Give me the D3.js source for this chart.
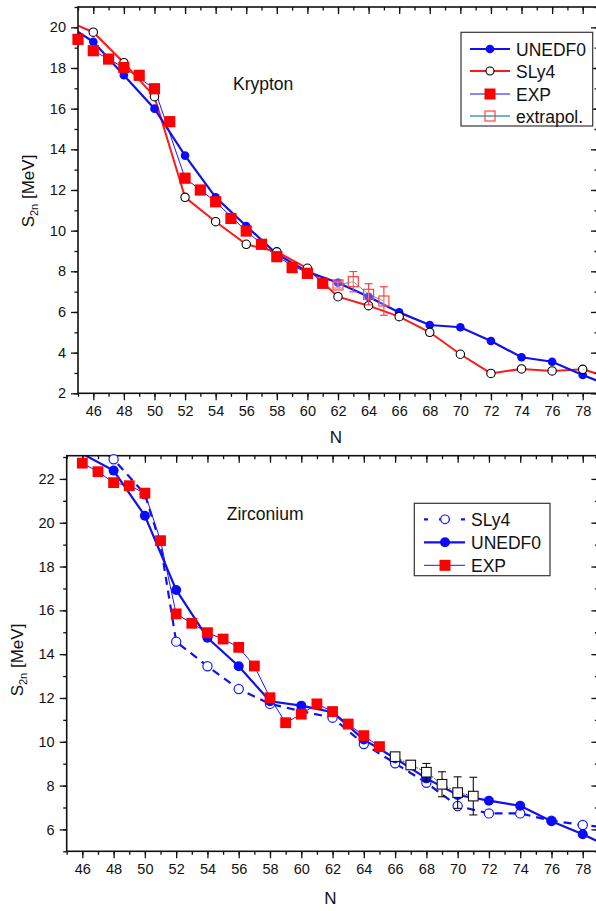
<!DOCTYPE html>
<html><head><meta charset="utf-8">
<script src="https://cdn.jsdelivr.net/npm/d3@7/dist/d3.min.js"></script>
<style>body{margin:0;background:#fff}svg{display:block}text{font-family:"Liberation Sans",Arial,sans-serif}</style>
</head><body>
<svg id="c" width="596" height="911"></svg>
<script>
// ---------- Krypton data ----------
const krEvenN   = [44,46,48,50,52,54,56,58,60,62,64,66,68,70,72,74,76,78,80];
const krUNEDF0  = [20.26,19.29,17.64,16.0,13.69,11.64,10.23,8.85,7.98,7.44,6.75,5.98,5.36,5.25,4.57,3.77,3.55,2.90,2.3];
const krSLy4    = [20.4,19.76,18.26,16.59,11.64,10.44,9.33,8.96,8.15,6.75,6.31,5.77,5.0,3.92,2.98,3.20,3.10,3.18,2.72];
const krExpN    = [45,46,47,48,49,50,51,52,53,54,55,56,57,58,59,60,61];
const krEXP     = [19.41,18.85,18.44,18.02,17.64,16.98,15.36,12.58,12.0,11.42,10.6,9.98,9.33,8.72,8.18,7.90,7.41];
const krExtrapN = [62,63,64,65];
const krExtrap  = [7.33,7.49,6.87,6.54];
const krExtrapErr = [0.15,0.5,0.52,0.7];
// ---------- Zirconium data ----------
const zrUnedN   = [44,46,48,50,52,54,56,58,60,62,64,66,68,70,72,74,76,78,80];
const zrUNEDF0  = [24.3,23.15,22.38,20.32,16.93,14.75,13.45,11.85,11.65,11.35,10.1,9.25,8.33,7.57,7.31,7.08,6.37,5.78,5.1];
const zrSlyN    = [44,46,48,50,51,52,54,56,58,60,62,64,66,68,70,72,74,76,78,80];
const zrSLy4    = [25.0,24.0,22.9,21.3,19.0,14.57,13.45,12.41,11.73,11.4,11.1,9.9,9.02,8.13,7.07,6.73,6.73,6.4,6.2,6.05];
const zrExpN    = [46,47,48,49,50,51,52,53,54,55,56,57,58,59,60,61,62,63,64,65];
const zrEXP     = [22.72,22.33,21.83,21.69,21.35,19.18,15.84,15.41,14.98,14.69,14.31,13.46,12.01,10.87,11.26,11.73,11.38,10.81,10.28,9.78];
const zrExtrapN = [66,67,68,69,70,71];
const zrExtrap  = [9.32,8.94,8.61,8.06,7.68,7.52];
const zrExtrapErr = [0.1,0.2,0.4,0.57,0.72,0.86];
// ---------- ticks ----------
const xTickLabels = d3.range(46,79,2);
const krYTicks = d3.range(2,21,2);
const zrYTicks = d3.range(6,23,2);

const svg = d3.select("#c");
const zip = (ns, vs) => ns.map((n,i)=>({n, v:vs[i]}));

function panel(o){
  const g = svg.append("g");
  const x = d3.scaleLinear().domain([45,79]).range([o.left, o.right]);
  const y = d3.scaleLinear().domain(o.yDom).range([o.bottom, o.top]);
  const id = "clip"+o.name;
  svg.append("clipPath").attr("id", id).append("rect")
    .attr("x", o.left).attr("y", o.top).attr("width", o.right-o.left).attr("height", o.bottom-o.top);
  const data = g.append("g").attr("clip-path", `url(#${id})`);
  const line = d3.line().x(d=>x(d.n)).y(d=>y(d.v));
  const inDom = d => d.v <= o.yDom[1]+0.15 && d.n>=45 && d.n<=79;

  const minorX = d3.range(45,80,1), minorY = d3.range(Math.ceil(o.yDom[0]), Math.floor(o.yDom[1])+1, 1);
  g.append("g").attr("transform",`translate(0,${o.bottom})`)
    .call(d3.axisBottom(x).tickValues(minorX).tickSizeInner(3.5).tickSizeOuter(0).tickFormat(""))
    .call(a=>a.select(".domain").remove());
  g.append("g").attr("transform",`translate(0,${o.bottom})`)
    .call(d3.axisBottom(x).tickValues(xTickLabels).tickSizeInner(7).tickSizeOuter(0).tickPadding(5))
    .call(a=>a.select(".domain").remove())
    .call(a=>a.selectAll("text").attr("font-size",14.5).attr("fill","#111"));
  g.append("g").attr("transform",`translate(${o.left},0)`)
    .call(d3.axisLeft(y).tickValues(minorY).tickSizeInner(3.5).tickSizeOuter(0).tickFormat(""))
    .call(a=>a.select(".domain").remove());
  g.append("g").attr("transform",`translate(${o.left},0)`)
    .call(d3.axisLeft(y).tickValues(o.yTicks).tickSizeInner(7).tickSizeOuter(0).tickPadding(5))
    .call(a=>a.select(".domain").remove())
    .call(a=>a.selectAll("text").attr("font-size",14.5).attr("fill","#111"));
  g.append("g").attr("transform",`translate(0,${o.top})`)
    .call(d3.axisBottom(x).tickValues(minorX).tickSizeInner(3.5).tickSizeOuter(0).tickFormat(""))
    .call(a=>a.select(".domain").remove());
  g.append("g").attr("transform",`translate(0,${o.top})`)
    .call(d3.axisBottom(x).tickValues(xTickLabels).tickSizeInner(7).tickSizeOuter(0).tickFormat(""))
    .call(a=>a.select(".domain").remove());
  g.append("g").attr("transform",`translate(${o.right},0)`)
    .call(d3.axisLeft(y).tickValues(minorY).tickSizeInner(3.5).tickSizeOuter(0).tickFormat(""))
    .call(a=>a.select(".domain").remove());
  g.append("g").attr("transform",`translate(${o.right},0)`)
    .call(d3.axisLeft(y).tickValues(o.yTicks).tickSizeInner(7).tickSizeOuter(0).tickFormat(""))
    .call(a=>a.select(".domain").remove());
  g.selectAll(".tick line").attr("stroke","#111").attr("stroke-width",1.3);
  g.append("rect").attr("x",o.left).attr("y",o.top).attr("width",o.right-o.left).attr("height",o.bottom-o.top)
    .attr("fill","none").attr("stroke","#111").attr("stroke-width",1.6);

  g.append("text").attr("x",(o.left+598)/2-2).attr("y",o.nY).attr("text-anchor","middle")
    .attr("font-size",17).attr("fill","#111").text("N");
  const yl = g.append("text").attr("transform",`translate(${o.ylX},${o.ylY}) rotate(-90)`)
    .attr("text-anchor","middle").attr("font-size",17).attr("fill","#111");
  yl.append("tspan").text("S");
  yl.append("tspan").attr("font-size",11).attr("dy",4).text("2n");
  yl.append("tspan").attr("dy",-4).text(" [MeV]");
  g.append("text").attr("x",o.labX).attr("y",o.labY).attr("font-size",17.5).attr("fill","#111").text(o.label);
  return {g, x, y, data, line, inDom};
}

// ================= Krypton =================
{
  const P = panel({name:"kr", left:78, right:598, top:7, bottom:393.3, yDom:[2,21], yTicks:krYTicks,
    nY:443, ylX:34, ylY:191, label:"Krypton", labX:233, labY:90});
  const {x,y,data,line,inDom} = P;
  const exp = zip(krExpN, krEXP), und = zip(krEvenN, krUNEDF0), sly = zip(krEvenN, krSLy4);
  const ext = krExtrapN.map((n,i)=>({n, v:krExtrap[i], e:krExtrapErr[i]}));
  data.append("path").datum(exp.filter(d=>d.n%2===0)).attr("d",line).attr("fill","none").attr("stroke","#1a1aff").attr("stroke-width",1);
  data.append("path").datum(sly).attr("d",line).attr("fill","none").attr("stroke","#ff1a1a").attr("stroke-width",2);
  data.append("path").datum(und).attr("d",line).attr("fill","none").attr("stroke","#1010f0").attr("stroke-width",2.2);
  data.append("path").datum(ext).attr("d",line).attr("fill","none").attr("stroke","#3aa6a6").attr("stroke-width",1);
  const m = P.g.append("g");
  m.selectAll(".ue").data(und.filter(inDom)).join("circle").attr("cx",d=>x(d.n)).attr("cy",d=>y(d.v)).attr("r",4.3).attr("fill","#0a0aff");
  m.selectAll(".sl").data(sly.filter(inDom)).join("circle").attr("cx",d=>x(d.n)).attr("cy",d=>y(d.v)).attr("r",4.2)
    .attr("fill","#fff").attr("stroke","#000").attr("stroke-width",1.1);
  m.selectAll(".ex").data(exp).join("rect").attr("x",d=>x(d.n)-5.6).attr("y",d=>y(d.v)-5.6).attr("width",11.2).attr("height",11.2).attr("fill","#ff0000");
  const eg = m.append("g").attr("stroke","#ff4040").attr("stroke-width",1.2).attr("fill","none");
  ext.forEach(d=>{
    eg.append("line").attr("x1",x(d.n)).attr("x2",x(d.n)).attr("y1",y(d.v+d.e)).attr("y2",y(d.v-d.e));
    [d.v+d.e,d.v-d.e].forEach(v=>eg.append("line").attr("x1",x(d.n)-4).attr("x2",x(d.n)+4).attr("y1",y(v)).attr("y2",y(v)));
    eg.append("rect").attr("x",x(d.n)-5).attr("y",y(d.v)-5).attr("width",10).attr("height",10).attr("fill","rgba(255,255,255,0.25)");
  });
  const L = P.g.append("g");
  L.append("rect").attr("x",461).attr("y",32.3).attr("width",131.7).attr("height",93.7).attr("fill","#fff").attr("stroke","#333").attr("stroke-width",1.2);
  const rows = [49,71,94,116];
  const names = ["UNEDF0","SLy4","EXP","extrapol."];
  const lc = ["#1010f0","#ff1a1a","#1010f0","#6fb8b8"], lw=[2.2,2,1.2,2];
  rows.forEach((ry,i)=>{
    L.append("line").attr("x1",470).attr("x2",510).attr("y1",ry).attr("y2",ry).attr("stroke",lc[i]).attr("stroke-width",lw[i]);
    L.append("text").attr("x",516).attr("y",ry+6.5).attr("font-size",17.5).attr("fill","#111").text(names[i]);
  });
  L.append("circle").attr("cx",490).attr("cy",rows[0]).attr("r",4.3).attr("fill","#0a0aff");
  L.append("circle").attr("cx",490).attr("cy",rows[1]).attr("r",4).attr("fill","#fff").attr("stroke","#000").attr("stroke-width",1.1);
  L.append("rect").attr("x",484.5).attr("y",rows[2]-5.5).attr("width",11).attr("height",11).attr("fill","#ff0000");
  L.append("rect").attr("x",485).attr("y",rows[3]-5).attr("width",10).attr("height",10).attr("fill","none").attr("stroke","#ff4040").attr("stroke-width",1.2);
}

// ================= Zirconium =================
{
  const P = panel({name:"zr", left:66.7, right:598.4, top:455.7, bottom:851.3, yDom:[5,23.06], yTicks:zrYTicks,
    nY:904, ylX:23, ylY:660, label:"Zirconium", labX:226.7, labY:520});
  const {x,y,data,line,inDom} = P;
  const exp = zip(zrExpN, zrEXP), und = zip(zrUnedN, zrUNEDF0), sly = zip(zrSlyN, zrSLy4);
  const ext = zrExtrapN.map((n,i)=>({n, v:zrExtrap[i], e:zrExtrapErr[i]}));
  data.append("path").datum(sly).attr("d",line).attr("fill","none").attr("stroke","#1010f0").attr("stroke-width",2.2).attr("stroke-dasharray","8,6");
  data.append("path").datum(exp).attr("d",line).attr("fill","none").attr("stroke","#1a1aff").attr("stroke-width",1);
  data.append("path").datum(und).attr("d",line).attr("fill","none").attr("stroke","#1010f0").attr("stroke-width",2.2);
  data.append("path").datum(ext).attr("d",line).attr("fill","none").attr("stroke","#222").attr("stroke-width",1).attr("stroke-dasharray","1.5,1.5");
  const m = P.g.append("g");
  m.selectAll(".sl").data(sly.filter(d=>inDom(d)&&d.n%2===0)).join("circle").attr("cx",d=>x(d.n)).attr("cy",d=>y(d.v)).attr("r",4.6)
    .attr("fill","#fff").attr("stroke","#1a1aff").attr("stroke-width",1.2);
  m.selectAll(".ue").data(und.filter(d=>d.v<=23.06)).join("circle").attr("cx",d=>x(d.n)).attr("cy",d=>y(d.v)).attr("r",5).attr("fill","#0a0aff");
  m.selectAll(".ex").data(exp).join("rect").attr("x",d=>x(d.n)-5.4).attr("y",d=>y(d.v)-5.4).attr("width",10.8).attr("height",10.8).attr("fill","#ff0000");
  const eg = m.append("g").attr("stroke","#111").attr("stroke-width",1.1);
  ext.forEach(d=>{
    eg.append("line").attr("x1",x(d.n)).attr("x2",x(d.n)).attr("y1",y(d.v+d.e)).attr("y2",y(d.v-d.e));
    [d.v+d.e,d.v-d.e].forEach(v=>eg.append("line").attr("x1",x(d.n)-4).attr("x2",x(d.n)+4).attr("y1",y(v)).attr("y2",y(v)));
    eg.append("rect").attr("x",x(d.n)-4.8).attr("y",y(d.v)-4.8).attr("width",9.6).attr("height",9.6).attr("fill","#fff");
  });
  const L = P.g.append("g");
  L.append("rect").attr("x",414.3).attr("y",503.3).attr("width",135.7).attr("height",72.4).attr("fill","#fff").attr("stroke","#333").attr("stroke-width",1.2);
  const rows = [519.3,542.3,565.3], names=["SLy4","UNEDF0","EXP"];
  L.append("line").attr("x1",424).attr("x2",465).attr("y1",rows[0]).attr("y2",rows[0]).attr("stroke","#1010f0").attr("stroke-width",2.2).attr("stroke-dasharray","4,11,11,11,4");
  L.append("line").attr("x1",424).attr("x2",465).attr("y1",rows[1]).attr("y2",rows[1]).attr("stroke","#1010f0").attr("stroke-width",2.2);
  L.append("line").attr("x1",424).attr("x2",465).attr("y1",rows[2]).attr("y2",rows[2]).attr("stroke","#1a1aff").attr("stroke-width",1);
  L.append("circle").attr("cx",445).attr("cy",rows[0]).attr("r",4.3).attr("fill","#fff").attr("stroke","#1a1aff").attr("stroke-width",1.2);
  L.append("circle").attr("cx",445).attr("cy",rows[1]).attr("r",5).attr("fill","#0a0aff");
  L.append("rect").attr("x",439.5).attr("y",rows[2]-5.5).attr("width",11).attr("height",11).attr("fill","#ff0000");
  names.forEach((t,i)=>L.append("text").attr("x",471).attr("y",rows[i]+6.5).attr("font-size",17.5).attr("fill","#111").text(t));
}
</script>
</body></html>
